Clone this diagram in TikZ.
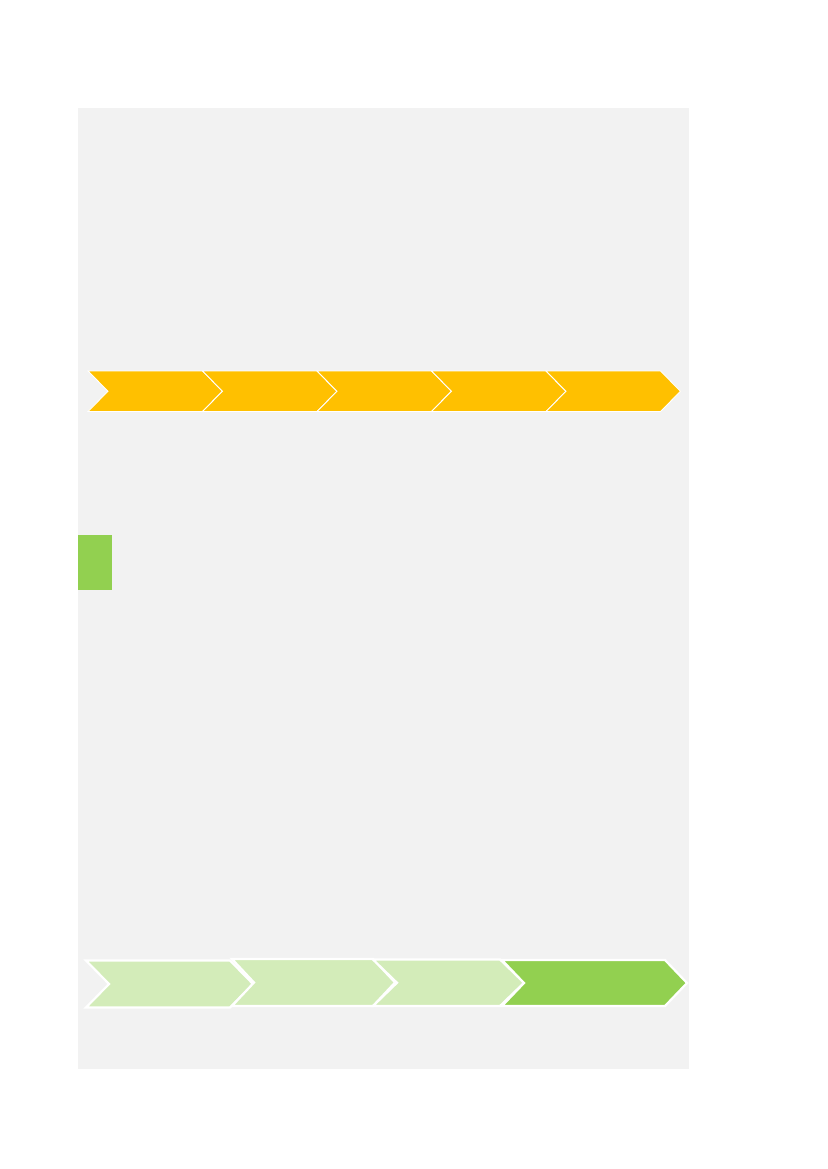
\documentclass[tikz,border=0pt]{standalone}
\usetikzlibrary{positioning}
\definecolor{panelgray}{HTML}{F2F2F2}
\definecolor{stepyellow}{HTML}{FFC000}
\definecolor{stepgreen}{HTML}{92D050}
\definecolor{steplight}{HTML}{D3ECB9}
\tikzset{
  chevron/.style={draw=white, line width=#1, line join=miter},
}
% chevron: left, back, tip, top, bottom, depth
\newcommand{\chev}[7]{%
  \draw[chevron=#7, fill=#1] (#2,#5) -- (#3,#5) -- (#4,{(#5+#6)/2}) -- (#3,#6)
    -- (#2,#6) -- ({#2+(#4-#3)},{(#5+#6)/2}) -- cycle;}
\begin{document}
\begin{tikzpicture}[x=1pt, y=-1pt]
  \useasboundingbox (0,0) rectangle (827,1169);
  \fill[panelgray] (78,108) rectangle (689,1069);
  % top row
  \foreach \i in {0,...,4} {
    \pgfmathsetmacro{\l}{88+114.5*\i}
    \pgfmathsetmacro{\b}{\l+114.5}
    \pgfmathsetmacro{\t}{\b+20}
    \chev{stepyellow}{\l}{\b}{\t}{371}{411.5}{0.9pt}
  }
  % marker
  \fill[stepgreen] (78,535) rectangle (112,590);
  % bottom row
  \chev{steplight}{86}{230}{253}{960.5}{1007.5}{2.2pt}
  \chev{steplight}{232}{373}{395}{959}{1006}{2.2pt}
  \chev{steplight}{373}{500}{524}{959.5}{1006}{2.2pt}
  \chev{stepgreen}{502}{665}{687}{960}{1006}{2.2pt}
\end{tikzpicture}
\end{document}
